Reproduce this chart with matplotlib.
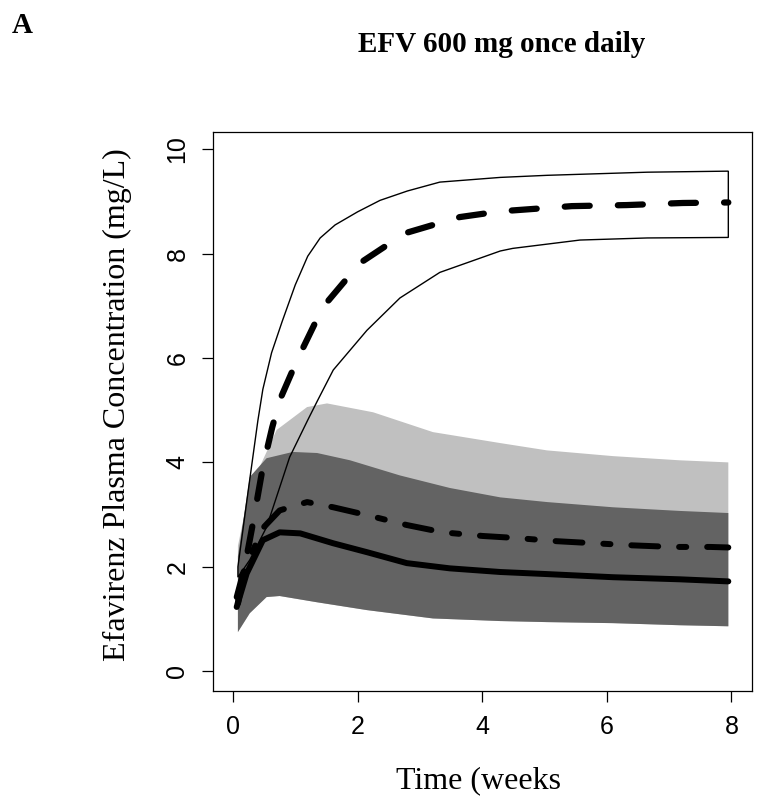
import numpy as np
import matplotlib
matplotlib.use("Agg")
import matplotlib.pyplot as plt

##### DATA #####

# Thin outlined band, upper and lower edge
band_hi_t = [0.08, 0.25, 0.40, 0.48, 0.62, 0.79, 1.00, 1.20, 1.40, 1.64, 2.00, 2.36, 2.80, 3.32, 4.29, 5.04, 6.65, 7.95]
band_hi_c = [2.0, 3.5, 4.8, 5.4, 6.1, 6.7, 7.4, 7.95, 8.3, 8.55, 8.8, 9.02, 9.2, 9.37, 9.46, 9.50, 9.56, 9.58]
band_lo_t = [0.08, 0.27, 0.54, 0.91, 1.20, 1.36, 1.61, 2.15, 2.68, 3.32, 4.29, 4.49, 5.57, 6.65, 7.95]
band_lo_c = [1.8, 2.13, 2.76, 4.10, 4.81, 5.19, 5.77, 6.53, 7.15, 7.64, 8.05, 8.10, 8.26, 8.30, 8.31]

# Thick dashed median inside the outlined band
med_t = [0.08, 0.32, 0.48, 0.63, 0.75, 1.03, 1.44, 2.04, 2.76, 3.64, 4.29, 5.44, 6.32, 7.22, 7.95]
med_c = [1.3, 2.83, 3.91, 4.67, 5.19, 5.96, 6.97, 7.82, 8.39, 8.70, 8.81, 8.91, 8.93, 8.97, 8.98]

# Light grey band top
light_t = [0.08, 0.27, 0.54, 0.70, 1.19, 1.51, 2.25, 3.21, 4.29, 5.04, 6.10, 7.17, 7.95]
light_c = [2.4, 3.5, 4.20, 4.62, 5.06, 5.13, 4.96, 4.58, 4.37, 4.23, 4.12, 4.04, 4.00]

# Dark grey band top and bottom
dark_hi_t = [0.08, 0.27, 0.54, 0.96, 1.35, 1.88, 2.68, 3.48, 4.29, 5.04, 6.10, 7.17, 7.95]
dark_hi_c = [2.2, 3.72, 4.08, 4.20, 4.18, 4.04, 3.75, 3.51, 3.33, 3.24, 3.14, 3.07, 3.03]
dark_lo_t = [0.08, 0.27, 0.54, 0.75, 1.35, 2.15, 3.21, 4.29, 5.04, 6.10, 7.17, 7.95]
dark_lo_c = [0.75, 1.11, 1.42, 1.44, 1.32, 1.17, 1.01, 0.96, 0.94, 0.92, 0.88, 0.86]

# Dash-dot median
dd_t = [0.06, 0.16, 0.48, 0.75, 1.19, 1.61, 2.15, 2.79, 3.37, 4.01, 4.56, 5.20, 5.81, 6.42, 7.06, 7.66, 7.95]
dd_c = [1.42, 1.87, 2.74, 3.08, 3.24, 3.14, 2.99, 2.80, 2.66, 2.59, 2.55, 2.49, 2.45, 2.41, 2.38, 2.38, 2.37]

# Solid median
sol_t = [0.06, 0.22, 0.48, 0.75, 1.08, 1.61, 2.15, 2.79, 3.48, 4.29, 5.04, 6.10, 7.17, 7.95]
sol_c = [1.23, 1.87, 2.51, 2.66, 2.64, 2.45, 2.28, 2.07, 1.97, 1.90, 1.86, 1.80, 1.76, 1.72]

x_ticks = [0, 2, 4, 6, 8]
y_ticks = [0, 2, 4, 6, 8, 10]

##### PLOT #####

W, H = 764, 805
fig = plt.figure(figsize=(W / 100, H / 100), dpi=100)
ax = fig.add_axes([213 / W, 1 - 691 / H, 539 / W, 559 / H])

# Shaded bands
ax.fill(np.r_[light_t, dark_lo_t[::-1]], np.r_[light_c, dark_lo_c[::-1]],
        color="#c0c0c0", lw=0, zorder=1)
ax.fill(np.r_[dark_hi_t, dark_lo_t[::-1]], np.r_[dark_hi_c, dark_lo_c[::-1]],
        color="#636363", lw=0, zorder=2)

# Outlined band
ax.fill(np.r_[band_hi_t, band_lo_t[::-1]], np.r_[band_hi_c, band_lo_c[::-1]],
        facecolor="none", edgecolor="black", lw=1.0, zorder=3)

# Median lines
ax.plot(med_t, med_c, color="black", lw=4.5, ls=(0, (4.0, 4.5)),
        dash_capstyle="round", zorder=4)
ax.plot(dd_t, dd_c, color="black", lw=4.3, ls=(0, (4.5, 3.5, 1.2, 3.5)),
        dash_capstyle="round", zorder=4)
ax.plot(sol_t, sol_c, color="black", lw=4.3, solid_capstyle="round", zorder=4)

# Axes in R base-graphics style
ax.set_xlim(-0.32, 8.33)
ax.set_ylim(-0.38, 10.33)
ax.set_xticks(x_ticks)
ax.set_yticks(y_ticks)
for s in ax.spines.values():
    s.set_linewidth(0.9)
ax.tick_params(direction="out", length=8, width=0.9, labelsize=18, pad=9)
ax.tick_params(axis="y", labelrotation=90)
for lab in ax.get_xticklabels() + ax.get_yticklabels():
    lab.set_family("Liberation Sans")
for lab in ax.get_yticklabels():
    lab.set_va("center")

# Texts
fig.text(12 / W, 1 - 33 / H, "A", family="Liberation Serif", weight="bold",
         fontsize=21, ha="left", va="baseline")
fig.text(502 / W, 1 - 52 / H, "EFV 600 mg once daily", family="Liberation Serif",
         weight="bold", fontsize=21, ha="center", va="baseline")
fig.text(478 / W, 1 - 788 / H, "Time (weeks", family="Liberation Serif",
         fontsize=23, ha="center", va="baseline")
fig.text(117 / W, 1 - 405 / H, "Efavirenz Plasma Concentration (mg/L)",
         family="Liberation Serif", fontsize=23, rotation=90,
         ha="center", va="center")

fig.savefig("out.png", dpi=100)
